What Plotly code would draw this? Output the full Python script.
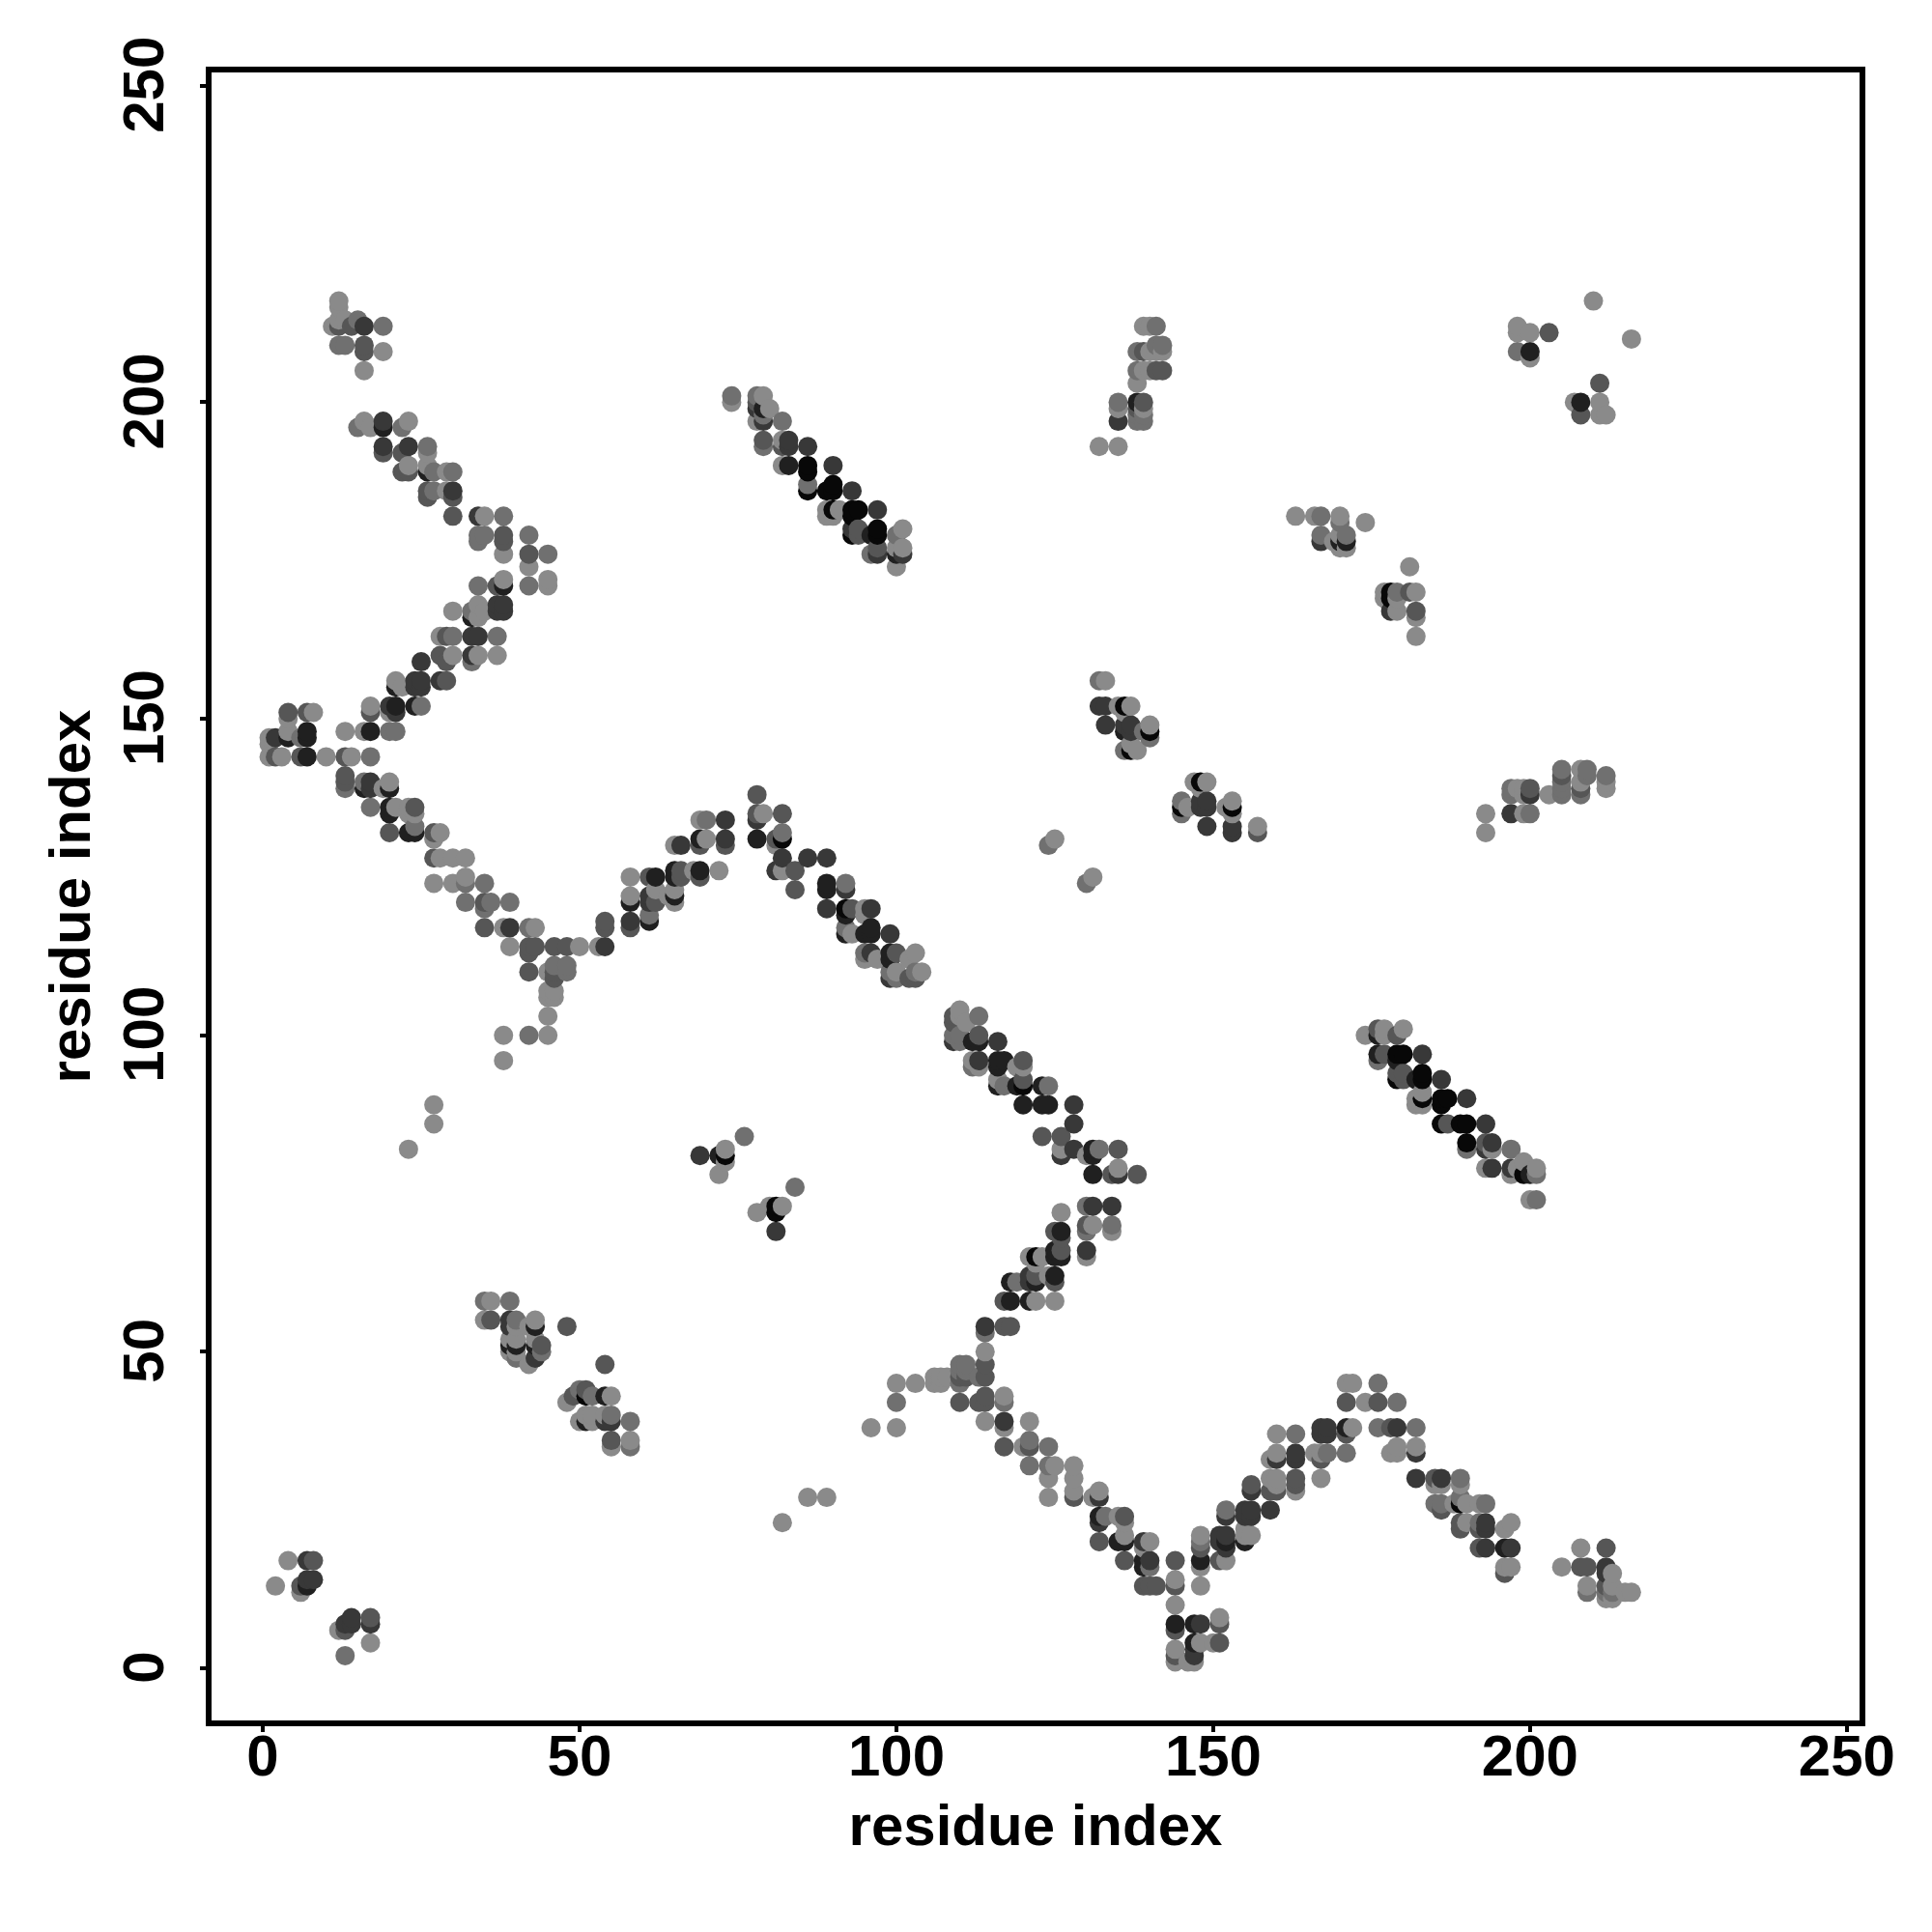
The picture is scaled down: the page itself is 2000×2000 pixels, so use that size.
import plotly.graph_objects as go

# gray levels of the contact points
A, B, C, D, E, F = 138, 112, 86, 56, 32, 8

top_left = [(12,216,A),(12,215,A),(11,212,A),(12,212,C),(12,213,A),(13,213,A),(15,213,B),(14,212,C),(16,212,D),(19,212,B),
 (12,209,B),(13,209,B),(16,209,C),(16,208,C),(19,208,A),(16,205,A),
 (15,196,B),(16,197,A),(17,196,A),(19,197,D),(19,196,E),(22,196,B),(23,197,A),
 (19,193,D),(19,192,C),(22,192,C),(23,193,D),(26,193,B),(23,190,A),(22,189,C),(23,189,C),(26,192,A),(26,190,A),(26,189,E),(27,189,B),(29,189,A),(30,189,B),
 (26,186,C),(26,185,C),(27,186,B),(29,186,A),(30,186,D),(30,185,C),(30,182,C),(34,182,D),(35,182,A),(38,182,B),
 (34,179,B),(34,178,B),(35,179,B),(38,179,C),(38,178,C),(38,176,A),(42,179,B),(42,176,C),(45,176,B),(42,174,A),(42,171,B),(45,172,A),(45,171,A),
 (34,171,B),(37,171,C),(38,171,E),(38,172,A),(37,168,D),(38,168,D),(37,167,D),(38,167,D),
 (30,167,A),(34,168,A),(33,167,B),(33,166,E),(34,166,A),(35,167,A),
 (28,163,A),(29,163,C),(30,163,B),(33,163,D),(34,163,D),(37,163,B),
 (28,160,C),(29,159,C),(30,160,A),(33,160,D),(33,159,B),(34,160,A),(37,160,A),
 (25,159,D),(29,156,C),(28,156,D),(24,156,D),(25,156,D),(24,155,D),(25,155,D),(21,156,A),(21,155,E),(22,155,A),
 (17,152,A),(17,151,C),(20,152,D),(21,152,E),(20,151,A),(21,151,D),(24,152,E),(25,152,B)]

left_v = [(4,151,C),(4,150,A),(7,151,C),(8,151,A),(4,148,A),(4,147,E),(7,148,E),(7,147,E),(6,147,B),(2,147,D),(1,147,A),(1,146,A),
 (1,144,A),(2,144,C),(3,144,A),(6,144,C),(7,144,E),(10,144,A),(13,144,C),(14,144,A),(17,144,B),
 (13,148,A),(16,148,A),(17,148,E),(20,148,B),(21,148,B),
 (13,141,C),(13,140,C),(13,139,B),(16,140,B),(16,139,E),(17,140,D),(17,139,D),(19,139,A),(20,140,A),(20,139,E),
 (17,136,B),(20,136,E),(20,135,E),(21,136,A),(23,136,A),(24,136,C),(23,135,A),(24,135,A),
 (20,132,C),(23,132,E),(24,132,E),(24,133,B),(27,132,C),(28,132,A),(27,131,A),
 (27,128,C),(28,128,A),(30,128,A),(32,128,A),(27,124,A),(30,124,A),(32,125,A),(32,124,B),(35,124,B),
 (32,121,B),(35,121,C),(36,121,B),(35,120,B),(39,121,B),
 (35,117,C),(38,117,A),(39,117,D),(42,117,B),(43,117,A),
 (39,114,A),(42,114,C),(43,114,C),(42,113,C),(46,114,C),(48,114,C),(50,114,A),(53,114,A),(54,114,D),(54,118,C),(54,117,C),
 (42,110,C),(45,110,A),(46,110,C),(46,109,C),(48,111,B),(48,110,B),(46,111,B),
 (45,107,A),(46,107,A),(45,106,A),(46,106,A),(45,103,A),(45,100,A),(42,100,B),(38,100,A),(38,96,A),
 (27,89,A),(27,86,A),(23,82,A)]

mid_peak = [(69,134,A),(70,134,B),(73,134,D),(69,131,E),(69,130,C),(70,131,A),(73,131,D),(73,130,C),(65,130,A),(66,130,D),
 (78,138,C),(78,135,C),(78,134,D),(79,135,A),(82,135,C),(78,131,E),(81,131,C),(81,130,A),(82,132,B),(82,131,F),
 (82,128,D),(86,128,D),(89,128,D),(81,126,D),(82,126,A),(84,126,C),(84,123,C),
 (89,124,E),(89,123,E),(92,124,B),(92,123,D),(89,120,D),(92,120,F),(92,119,E),(93,120,C),(95,120,A),(96,120,D),(95,119,A),
 (92,117,B),(92,116,E),(93,116,A),(95,116,E),(96,117,E),(96,116,E),(99,116,D),
 (95,113,B),(95,112,A),(96,113,D),(97,112,A),(99,113,E),(99,112,E),(100,113,C),(102,112,A),(103,113,A),
 (99,110,B),(99,109,D),(100,109,B),(100,110,A),(102,109,C),(103,109,C),(103,110,B),(104,110,A),
 (58,125,A),(61,125,C),(62,125,E),(65,126,E),(65,125,E),(66,126,C),(66,125,C),(69,126,E),(69,125,C),(68,126,A),(72,126,A),
 (65,123,A),(65,121,A),(65,122,E),(64,122,A),(62,123,A),(61,122,D),(62,121,C),(61,121,D),(58,122,A),(58,121,E),
 (58,118,D),(58,117,C),(61,119,B),(61,118,E)]

mid_small = [(69,81,D),(72,81,E),(73,82,A),(73,81,F),(73,80,A),(72,78,A),(76,84,B),
 (84,76,B),(78,72,A),(80,73,A),(81,73,F),(81,72,F),(82,73,A),(81,69,D),
 (124,130,B),(125,131,A),(130,124,B),(131,125,A)]

diag_center = [(110,104,A),(109,103,C),(109,102,C),(110,103,A),(113,103,B),(111,102,A),(109,100,B),(109,99,D),(110,100,B),(110,99,B),
 (113,100,C),(112,99,E),(113,99,E),(116,99,D),(112,96,A),(112,95,B),(113,96,D),(113,95,A),(116,96,E),(117,96,E),(116,95,E),(119,95,A),(120,96,C),(120,95,A),
 (116,93,A),(116,92,E),(117,92,B),(119,92,E),(120,93,C),(120,92,F),(123,92,E),(124,92,B),(120,89,E),(123,89,E),(124,89,E),(128,89,D),(128,86,D),
 (123,84,C),(126,84,C),(126,82,A),(126,81,D),(128,82,D),(130,81,A),(131,82,E),(131,81,E),(132,82,B),(135,82,C),(135,79,A),(134,78,C),(135,78,D),(138,78,C),(131,78,E)]

rise_center = [(130,73,B),(131,73,D),(134,73,D),(126,72,A),(130,70,C),(131,70,A),(130,69,B),(134,70,B),(134,69,A),(125,69,C),(126,69,E),(126,68,C),
 (130,66,D),(130,65,A),(125,66,E),(126,66,C),(125,65,E),(126,65,E),(121,65,A),(122,65,F),(123,65,A),(122,64,A),
 (121,62,D),(122,62,C),(121,61,D),(122,61,E),(124,62,A),(125,62,E),(125,61,C),(118,61,E),(119,61,B),
 (117,58,C),(118,58,E),(121,58,E),(122,58,A),(125,58,A),(114,54,D),(114,53,B),(117,54,C),(118,54,C),
 (114,50,A),(114,48,C),(114,46,C),(113,46,B),(110,48,B),(111,48,B),(110,47,B),(111,47,B),(110,46,C),(111,46,C),(110,45,B),
 (106,46,A),(107,46,A),(106,45,A),(107,45,A),(108,46,A),(103,45,A),(100,45,A),(100,42,B),(96,38,A),(100,38,A),(86,27,A),(89,27,A),(82,23,A)]

fall_center = [(110,42,C),(113,42,C),(114,43,C),(114,42,C),(117,43,A),(117,42,B),(114,39,A),(117,39,D),(117,38,A),(121,39,A),
 (117,35,C),(120,35,A),(121,36,B),(121,35,C),(124,35,B),(121,32,B),(124,32,B),(125,32,A),(128,32,A),(124,30,A),(128,30,A),(128,28,A),(128,27,C),(124,27,A),(131,27,A),(132,28,A),(132,27,D),
 (132,24,E),(132,23,D),(133,24,B),(135,24,A),(136,24,C),(136,23,A),(132,20,C),(135,20,E),(136,20,E),(136,21,A),
 (139,20,D),(140,20,A),(139,19,A),(136,17,C),(139,17,E),(139,16,E),(140,17,D),(140,16,B),(139,13,C),(140,13,C),(141,13,C),
 (144,17,C),(144,14,A),(144,13,C),(144,10,A),(144,7,E),(144,6,C),(147,7,E),(148,7,D),(151,8,A),(151,7,C),(151,4,C),(150,4,A),(148,4,A),(147,4,E),(147,3,D),
 (144,3,A),(144,2,C),(144,1,A),(146,1,A),(147,1,A),(147,2,D)]

rise_right = [(148,17,E),(148,16,A),(148,13,A),(151,17,C),(152,17,A),(148,21,A),(148,20,B),(148,19,C),(151,21,D),(152,21,D),(152,20,E),(151,20,D),(152,19,D),
 (152,25,B),(152,24,D),(155,25,D),(156,25,D),(155,24,D),(156,24,D),(159,25,D),(155,20,E),(155,21,A),(156,21,A),(155,22,A),(156,29,C),(156,28,D),
 (159,30,A),(160,30,A),(160,29,A),(159,28,C),(160,28,C),(163,30,C),(163,29,C),(163,28,A),(159,33,A),(160,33,D),(160,34,A),(163,34,D),(163,33,D),(160,37,A),(163,37,B),
 (167,38,D),(168,38,D),(167,37,D),(168,37,D),(171,38,E),(172,38,A),(171,37,C),(166,34,A),(167,34,A),(167,33,C),(168,34,B),(167,30,A),(171,34,B),(171,45,A),(172,45,A),(171,42,C)]

fall_right = [(176,45,B),(174,42,A),(176,42,C),(179,42,B),(176,38,B),(178,38,C),(179,38,D),(182,38,B),(178,34,A),(179,34,A),(179,35,A),(182,35,A),(182,34,D),
 (182,30,D),(185,30,C),(186,30,D),(185,29,A),(186,29,A),(189,30,B),(189,29,A),(185,26,B),(186,26,B),(186,25,C),(188,26,A),(189,27,B),(189,26,F),(190,26,A),(192,26,A),(193,26,B),
 (189,23,C),(189,22,C),(190,23,A),(192,23,B),(192,22,C),(193,23,D),(193,22,D),(196,22,A),(197,23,A),(192,19,C),(193,19,D),(196,19,E),(197,19,D),(196,16,A),(197,16,A),(196,15,C),
 (208,19,A),(212,19,C),(205,16,A),(208,16,C),(209,16,C),(212,16,D),(212,15,D),(213,15,A),(209,13,A),(209,12,B),(212,13,C),(213,13,A),(212,12,B),(213,12,B),(212,11,A),(213,11,A),(215,12,A),(216,12,A)]

bottom_left = [(4,17,A),(7,17,D),(8,17,C),(2,13,A),(6,13,C),(6,12,A),(7,13,E),(8,14,D),(7,14,D),(14,8,D),(13,7,D),(14,7,D),(12,6,A),(13,6,C),(17,8,C),(17,7,D),(17,4,A),(13,2,B),
 (54,48,C),(48,54,C),(35,58,B),(36,58,A),(39,58,B),(35,55,A),(36,55,C),(39,55,D),(39,54,D),(40,55,B),(40,54,A),(43,55,A),(43,54,E),(42,54,A),
 (39,52,A),(39,51,E),(39,50,A),(40,52,A),(40,51,E),(40,50,A),(40,49,B),(43,51,E),(43,52,A),(44,51,C),(44,50,B),(43,49,D),(42,48,A),
 (48,42,A),(49,43,C),(50,44,B),(51,44,C),(51,43,F),(52,43,B),(54,43,E),(55,43,A),(50,39,A),(51,39,E),(52,39,A),(51,40,A),(52,40,A),(54,39,D),(54,40,A),(55,40,B),(55,39,D),
 (58,39,B),(55,36,C),(55,35,A),(58,36,A),(58,35,B)]

diag_upper = [(74,200,A),(74,201,B),(78,201,B),(79,201,A),(78,200,C),(78,199,D),(79,199,E),(80,199,A),(78,197,A),(79,197,D),(79,198,B),(82,197,B),
 (79,194,C),(79,193,B),(82,194,A),(83,194,D),(82,193,C),(83,193,D),(86,193,D),(82,190,A),(83,190,E),(86,190,F),(86,189,F),(90,190,D),
 (86,187,B),(86,186,F),(89,186,F),(90,187,F),(90,186,F),(93,186,D),(89,183,A),(89,182,A),(90,183,F),(90,182,A),(91,183,A),(93,183,F),(94,183,F),(93,182,F),(97,183,D),
 (93,180,D),(94,180,C),(93,179,F),(94,179,C),(96,179,E),(97,180,F),(97,179,F),(100,179,B),(101,180,A),
 (96,176,B),(97,177,C),(97,176,D),(100,177,A),(100,176,E),(101,177,A),(101,176,D),(100,174,A)]

upper_block = [(132,193,A),(135,193,A),(135,200,B),(135,199,A),(135,197,D),(138,200,E),(139,200,C),(138,199,C),(139,199,A),(138,198,B),(139,198,B),(138,197,B),(139,197,B),
 (138,203,A),(138,205,B),(139,205,A),(140,205,A),(141,205,C),(138,208,B),(139,208,C),(140,208,A),(141,209,B),(141,208,A),(139,212,A),(140,212,A),(141,212,B),(142,209,B),(142,208,A),(142,205,C)]

upper_right = [(163,182,A),(166,182,A),(167,182,B),(170,182,A),(170,181,B),(174,181,A),(167,179,B),(167,178,D),(170,179,A),(171,179,B),(169,178,A),(170,178,E),(171,178,E),(170,177,A),(171,177,A),
 (181,174,A),(177,170,A),(177,169,A),(178,170,F),(178,169,F),(179,170,B),(179,169,A),(181,170,C),(182,170,A),(178,167,D),(179,167,A),(182,167,C),(182,166,A),(182,163,A),
 (210,216,A),(216,210,A),(198,212,A),(198,211,A),(200,211,A),(203,211,C),(198,208,B),(200,208,E),(200,207,A),(211,203,C),(207,200,A),(208,200,E),(211,200,A),(208,198,C),(211,198,A),(212,198,A)]

middle_right = [(132,156,B),(133,156,A),(132,152,D),(133,152,D),(135,152,A),(136,152,F),(137,152,A),(136,151,A),(133,149,D),(136,149,D),(137,149,D),(136,148,E),(137,148,D),(139,148,B),(140,149,A),(140,147,B),(140,148,F),
 (136,145,B),(137,145,F),(137,146,A),(138,145,A),
 (147,140,A),(148,140,F),(149,140,A),(148,139,A),(145,137,B),(145,136,F),(145,135,B),(146,136,A),(148,137,D),(149,137,D),(148,136,D),(149,136,D),(152,136,A),(153,137,A),(153,136,F),(153,135,A),
 (149,133,D),(153,133,D),(153,132,D),(157,133,A),(157,132,C)]

right_arm = [(193,135,A),(193,132,A),(197,135,D),(199,135,A),(200,135,B),(197,139,B),(197,138,B),(198,139,A),(199,139,A),(200,139,C),(200,138,D),(199,138,A),(203,138,A),
 (205,142,B),(205,141,C),(205,140,B),(205,139,B),(205,138,B),(208,142,A),(209,142,B),(209,141,B),(208,140,A),(208,139,C),(208,138,B),(212,141,B),(212,140,A),(212,139,A)]

diag_right = [(174,100,A),(176,101,C),(176,100,E),(177,101,A),(177,100,A),(179,100,C),(180,101,A),(176,97,E),(176,96,B),(177,97,C),(179,97,F),(180,97,F),(179,96,E),(183,97,D),
 (179,94,C),(179,93,F),(180,94,C),(180,93,C),(182,93,E),(183,94,F),(183,93,F),(186,93,D),(182,90,A),(182,89,A),(183,91,A),(183,90,F),(183,89,A),(186,90,F),(187,90,F),(186,89,F),(190,90,D),
 (186,86,F),(187,86,C),(189,86,F),(190,86,F),(193,86,D),(190,83,F),(190,82,B),(193,83,C),(194,83,D),(193,82,D),(194,82,A),(197,82,B),
 (193,79,A),(194,79,D),(197,79,D),(197,78,A),(198,79,A),(199,80,A),(199,78,F),(200,78,E),(201,79,A),(201,78,B),(200,74,A),(201,74,B)]

x_ticks = [0, 50, 100, 150, 200, 250]
y_ticks = [0, 50, 100, 150, 200, 250]
x_title = "residue index"
y_title = "residue index"

groups = [top_left, left_v, mid_peak, mid_small, diag_center, rise_center, fall_center, rise_right,
          fall_right, bottom_left, diag_upper, upper_block, upper_right, middle_right, right_arm, diag_right]
points = sorted({(p[0], p[1]): p for g in groups for p in g}.values(), key=lambda p: (p[0], p[1]))
xs = [p[0] for p in points]
ys = [p[1] for p in points]
colors = [f"rgb({p[2]},{p[2]},{p[2]})" for p in points]

FONT = "Liberation Sans"
SIZE = 60
fig = go.Figure(go.Scatter(
    x=xs, y=ys, mode="markers",
    marker=dict(size=20, color=colors, line=dict(width=0)),
    hoverinfo="skip",
))
axis_common = dict(
    showgrid=False, zeroline=False, showline=True, linewidth=6, linecolor="black", mirror=True,
    ticks="outside", ticklen=6, tickwidth=4, tickcolor="black", tickmode="array",
    tickfont=dict(family=FONT, size=SIZE, color="black", weight="bold"),
)
fig.update_xaxes(range=[-8.08, 252.0], tickvals=x_ticks, ticktext=[str(v) for v in x_ticks], ticklabelstandoff=-27, **axis_common,
                 title=dict(text=x_title, font=dict(family=FONT, size=SIZE, color="black", weight="bold"), standoff=20))
fig.update_yaxes(range=[-8.24, 252.1], tickvals=y_ticks, ticktext=[str(v) for v in y_ticks], tickangle=-90, ticklabelstandoff=14, ticklabelshift=8, **axis_common,
                 title=dict(text=y_title, font=dict(family=FONT, size=SIZE, color="black", weight="bold"), standoff=4))
fig.update_layout(
    width=2000, height=2000, showlegend=False,
    paper_bgcolor="white", plot_bgcolor="white",
    margin=dict(l=211, r=83, t=67, b=227, autoexpand=False),
)
fig.write_html("out.html")
